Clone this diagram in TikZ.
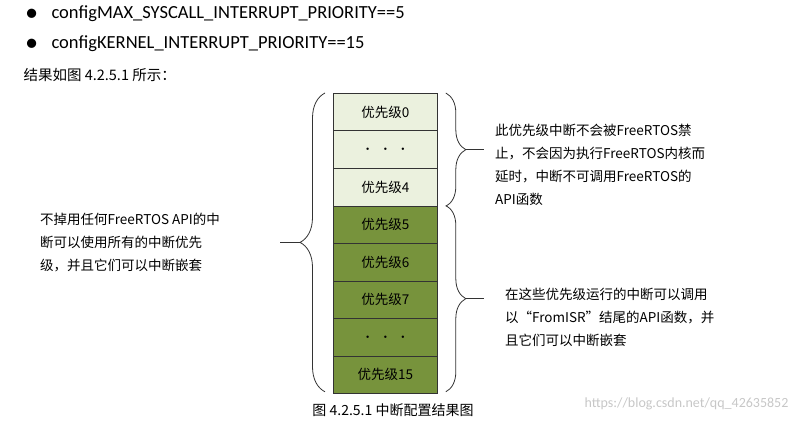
\documentclass[tikz,border=0pt]{standalone}
\usepackage{fontspec}
\setmainfont{Carlito}
\newfontfamily\cjk{Noto Sans CJK SC}
\usetikzlibrary{decorations.pathreplacing,calc}
\definecolor{lightg}{HTML}{EBF1DE}
\definecolor{darkg}{HTML}{77933C}
\newcommand{\tdots}{{\tiny$\bullet$}\hspace{14pt}{\tiny$\bullet$}\hspace{14pt}{\tiny$\bullet$}}
\begin{document}
\begin{tikzpicture}[x=1pt,y=-1pt,
  cell/.style={draw=black!80,line width=0.8pt,minimum width=104pt,minimum height=37.5pt,inner sep=0pt,anchor=north west,font=\cjk\fontsize{13.5}{13.5}\selectfont},
  lcell/.style={cell,fill=lightg},
  dcell/.style={cell,fill=darkg},
  desc/.style={font=\cjk\fontsize{13.5}{23}\selectfont,align=left,anchor=north west,inner sep=0pt},
  brr/.style={decorate,decoration={brace,amplitude=20pt},line width=0.8pt,black!80},
  brl/.style={decorate,decoration={brace,amplitude=25pt},line width=0.8pt,black!80},
  tip/.style={line width=0.8pt,black!80}]
\useasboundingbox (0,0) rectangle (797,422);
\node[anchor=west,font=\fontsize{20}{20}\selectfont] (b1) at (22,14) {●};
\node[anchor=west,font=\fontsize{18.5}{18.5}\selectfont] (t1) at (48,14) {configMAX\_SYSCALL\_INTERRUPT\_PRIORITY==5};
\node[anchor=west,font=\fontsize{20}{20}\selectfont] (b2) at (22,44) {●};
\node[anchor=west,font=\fontsize{18.5}{18.5}\selectfont] (t2) at (48,44) {configKERNEL\_INTERRUPT\_PRIORITY==15};
\node[anchor=west,font=\cjk\fontsize{14.5}{14.5}\selectfont] (t3) at (20,75) {结果如图 4.2.5.1 所示：};
\node[lcell] (c0) at (333,93) {优先级0};
\node[lcell] (c1) at (333,130.5) {\tdots};
\node[lcell] (c2) at (333,168) {优先级4};
\node[dcell] (c3) at (333,205.5) {优先级5};
\node[dcell] (c4) at (333,243) {优先级6};
\node[dcell] (c5) at (333,280.5) {优先级7};
\node[dcell] (c6) at (333,318) {\tdots};
\node[dcell] (c7) at (333,355.5) {优先级15};
\draw[brr] ($(c0.north east)+(8,0)$) coordinate (r1a) -- ($(c2.south east)+(8,0)$) coordinate (r1b);
\draw[brr] ($(c3.north east)+(8,0)$) coordinate (r2a) -- ($(c7.south east)+(8,-2)$) coordinate (r2b);
\draw[brl] ($(c7.south west)+(-8,-2)$) coordinate (la) -- ($(c0.north west)+(-8,0)$) coordinate (lb);
\coordinate (rt1) at ($(r1a)!0.5!(r1b)+(20,0)$);
\coordinate (rt2) at ($(r2a)!0.5!(r2b)+(20,0)$);
\coordinate (lt) at ($(la)!0.5!(lb)+(-25,0)$);
\draw[tip] (rt1) -- ++(18,0) coordinate (re1);
\draw[tip] (rt2) -- ++(18,0) coordinate (re2);
\draw[tip] (lt) -- ++(-20,0) coordinate (le);
\node[desc] (d1) at (495,124) {此优先级中断不会被FreeRTOS禁\\止，不会因为执行FreeRTOS内核而\\延时，中断不可调用FreeRTOS的\\API函数};
\node[desc] (d2) at (505,288) {在这些优先级运行的中断可以调用\\以“FromISR”结尾的API函数，并\\且它们可以中断嵌套};
\node[desc] (d3) at (40,213) {不掉用任何FreeRTOS API的中\\断可以使用所有的中断优先\\级，并且它们可以中断嵌套};
\node[font=\cjk\fontsize{14}{14}\selectfont] (cap) at (393,410) {图 4.2.5.1 中断配置结果图};
\node[anchor=east,font=\fontsize{14}{14}\selectfont,text=black!22] (wm) at (792,404) {https://blog.csdn.net/qq\_42635852};
\end{tikzpicture}
\end{document}
